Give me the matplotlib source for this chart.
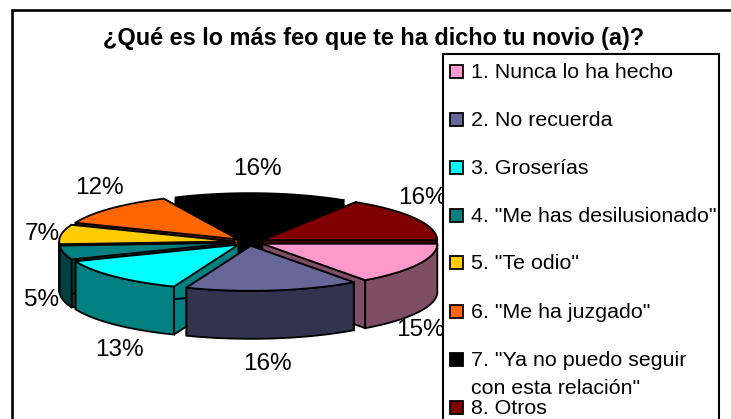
import numpy as np
import matplotlib
matplotlib.use('Agg')
import matplotlib.pyplot as plt
from matplotlib.patches import Polygon, Rectangle

title = '¿Qué es lo más feo que te ha dicho tu novio (a)?'
labels = ['1. Nunca lo ha hecho', '2. No recuerda', '3. Groserías', '4. "Me has desilusionado"',
          '5. "Te odio"', '6. "Me ha juzgado"', '7. "Ya no puedo seguir\ncon esta relación"', '8. Otros']
values = [15, 16, 13, 5, 7, 12, 16, 16]
colors = ['#FF99CC', '#666699', '#00FFFF', '#008080', '#FFCC00', '#FF6600', '#000000', '#800000']
sides = ['#804D66', '#333350', '#008080', '#004040', '#806600', '#803300', '#000000', '#400000']
label_pos = [(420, 330), (267, 364), (119, 350), (42, 300), (42, 234), (99, 188), (257, 169), (422, 198)]
legend_y = [72, 120, 168, 216, 263, 312, 360, 408]

cx, cy, rx, ry, depth, explode = 249, 242, 175, 45, 48, 15

plt.rcParams['font.family'] = ['Liberation Sans', 'DejaVu Sans']
fig = plt.figure(figsize=(7.31, 4.19), dpi=100)
ax = fig.add_axes([0, 0, 1, 1])
ax.set_xlim(0, 731)
ax.set_ylim(419, 0)
ax.axis('off')

ax.add_patch(Rectangle((12, 10), 760, 430, fc='white', ec='black', lw=1.9, zorder=0))

edges = np.cumsum([0] + values) * 3.6

for i in range(len(values)):
    mid = np.radians((edges[i] + edges[i + 1]) / 2)
    ox = cx + explode * np.cos(mid)
    oy = cy + explode * ry / rx * np.sin(mid)
    a = np.radians(np.linspace(edges[i], edges[i + 1], 40))
    xs = ox + rx * np.cos(a)
    ys = oy + ry * np.sin(a)
    z = 2 + np.sin(mid)
    # cut faces from the centre to each end of the arc
    for k in [0, -1]:
        face = [(ox, oy), (xs[k], ys[k]), (xs[k], ys[k] + depth), (ox, oy + depth)]
        ax.add_patch(Polygon(face, fc=sides[i], ec='black', lw=1.3, zorder=z))
    # outer wall, only the part that faces the viewer
    vis = np.sin(a) > 0
    if vis.any():
        wall = list(zip(xs[vis], ys[vis])) + list(zip(xs[vis][::-1], ys[vis][::-1] + depth))
        ax.add_patch(Polygon(wall, fc=sides[i], ec='black', lw=1.3, zorder=z + 0.01))
    top = [(ox, oy)] + list(zip(xs, ys))
    ax.add_patch(Polygon(top, fc=colors[i], ec='black', lw=1.3, zorder=z + 0.02))

for v, (x, y) in zip(values, label_pos):
    ax.text(x, y, f'{v}%', fontsize=17.5, ha='center', va='center', zorder=6)

ax.text(374, 38, title, fontsize=16.9, fontweight='bold', ha='center', va='center', zorder=6)

ax.add_patch(Rectangle((443, 54), 276, 380, fc='white', ec='black', lw=1.5, zorder=7))
for lab, col, y in zip(labels, colors, legend_y):
    ax.add_patch(Rectangle((450, y - 7), 13, 13, fc=col, ec='black', lw=1.3, zorder=8))
    parts = lab.split('\n')
    ax.text(471, y, parts[0], fontsize=15.4, ha='left', va='center', zorder=8)
    if len(parts) > 1:
        ax.text(471, y + 28, parts[1], fontsize=15.4, ha='left', va='center', zorder=8)

fig.savefig('out.png', dpi=100)
